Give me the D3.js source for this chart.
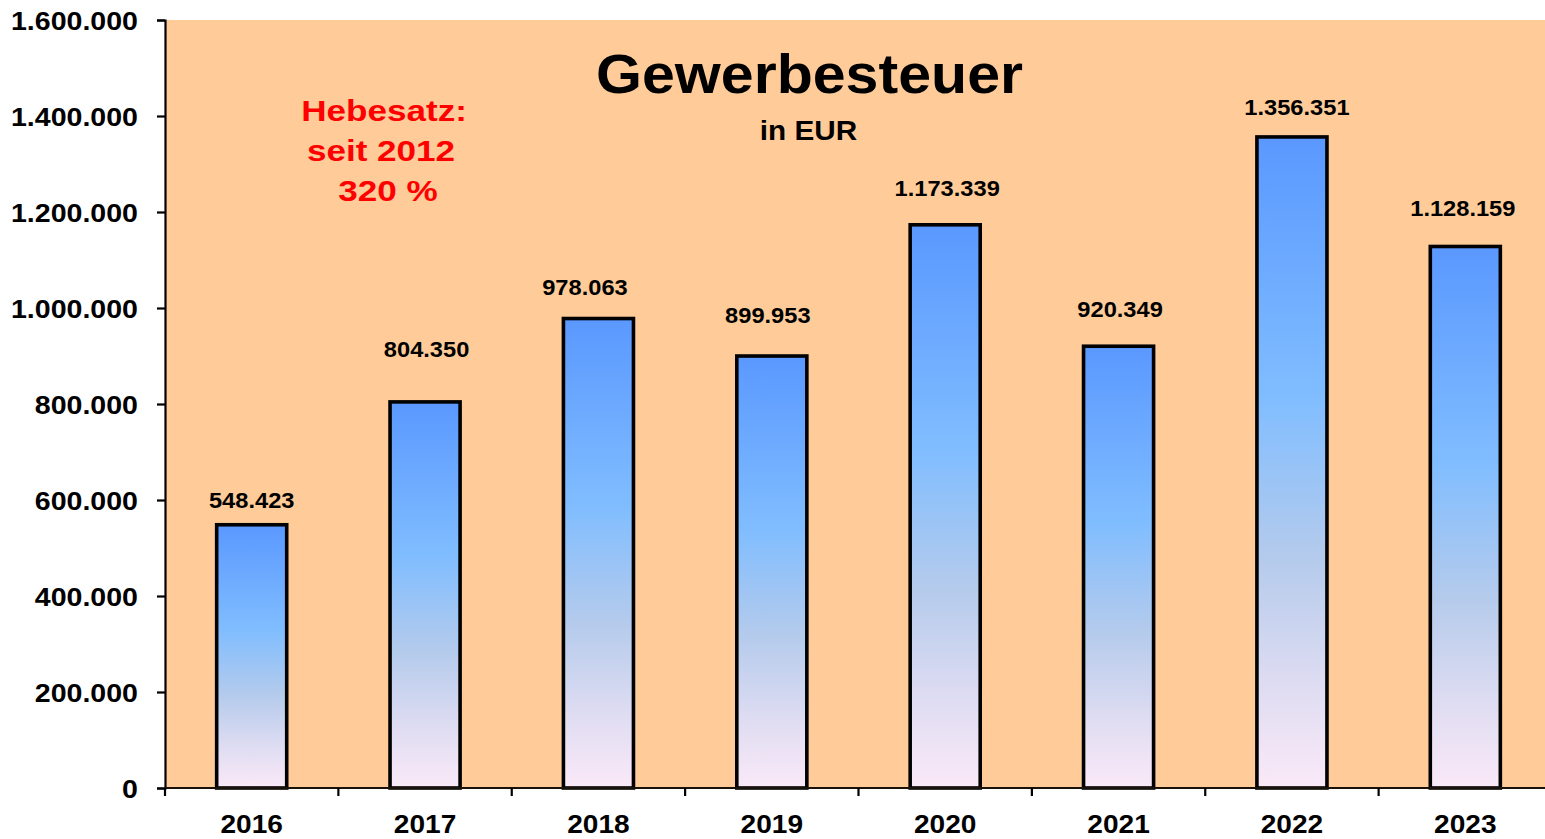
<!DOCTYPE html>
<html>
<head>
<meta charset="utf-8">
<script src="https://cdn.jsdelivr.net/npm/d3@7"></script>
<style>
  html, body { margin: 0; padding: 0; background: #ffffff; overflow: hidden; }
  svg { display: block; font-family: "Liberation Sans", Arial, Helvetica, sans-serif; }
</style>
</head>
<body>
<svg id="chart" width="1545" height="839"></svg>
<script>
// ---- data ----
const categories = ["2016", "2017", "2018", "2019", "2020", "2021", "2022", "2023"];
const values = [548423, 804350, 978063, 899953, 1173339, 920349, 1356351, 1128159];
const valueLabels = ["548.423", "804.350", "978.063", "899.953", "1.173.339", "920.349", "1.356.351", "1.128.159"];
const yTicks = [0, 200000, 400000, 600000, 800000, 1000000, 1200000, 1400000, 1600000];
const yTickLabels = ["0", "200.000", "400.000", "600.000", "800.000", "1.000.000", "1.200.000", "1.400.000", "1.600.000"];
const titleText = "Gewerbesteuer";
const subtitleText = "in EUR";
const noteLines = ["Hebesatz:", "seit 2012", "320 %"];

// ---- layout (label nudges relative to bar top / bar centre) ----
const labelNudge = [[0, -17], [1.5, -45], [-13.5, -23.5], [-4, -33], [2, -29], [1.5, -29], [5, -22], [-2.5, -30.5]];
const noteCenters = [384, 381, 388];

const W = 1545, H = 839;
const plot = { left: 165, top: 20, right: 1552, bottom: 788 };
const svg = d3.select("#chart");

const x = d3.scaleBand().domain(categories).range([plot.left, plot.right])
  .paddingInner(0.596).paddingOuter(0.298);
const y = d3.scaleLinear().domain([0, 1600000]).range([plot.bottom, plot.top]);

// plot background
svg.append("rect").attr("x", plot.left).attr("y", plot.top)
  .attr("width", W - plot.left).attr("height", plot.bottom - plot.top)
  .attr("fill", "#FFCC99");

// gradient
const defs = svg.append("defs");
const grad = defs.append("linearGradient").attr("id", "barGrad")
  .attr("x1", 0).attr("y1", 0).attr("x2", 0).attr("y2", 1);
[[0, "#5A98FF"], [0.4, "#80BDFF"], [0.65, "#B5CBEC"], [0.85, "#E0DDF2"], [1, "#FAE9F8"]]
  .forEach(([o, c]) => grad.append("stop").attr("offset", o).attr("stop-color", c));

// bars
svg.append("g").selectAll("rect").data(values).join("rect")
  .attr("x", (d, i) => x(categories[i]))
  .attr("y", d => y(d))
  .attr("width", x.bandwidth())
  .attr("height", d => y(0) - y(d))
  .attr("fill", "url(#barGrad)")
  .attr("stroke", "#000").attr("stroke-width", 3.6);

// y axis
const yAxis = d3.axisLeft(y).tickValues(yTicks).tickSize(8).tickPadding(0)
  .tickFormat((d, i) => yTickLabels[i]);
const gy = svg.append("g").attr("transform", `translate(${plot.left},0)`).call(yAxis);
gy.select(".domain").attr("stroke", "#000").attr("stroke-width", 2.2);
gy.selectAll(".tick line").attr("stroke", "#000").attr("stroke-width", 2.2);
gy.selectAll(".tick text")
  .attr("x", -27 / 1.12).attr("dy", "0.36em")
  .attr("transform", "scale(1.12,1)")
  .attr("font-size", 25.5).attr("font-weight", "bold").attr("fill", "#000")
  .attr("font-family", "Liberation Sans, Arial, sans-serif");

// x axis line
svg.append("line").attr("x1", plot.left).attr("x2", W).attr("y1", plot.bottom).attr("y2", plot.bottom)
  .attr("stroke", "#1a1208").attr("stroke-width", 2.2);
// x boundary ticks
const bounds = categories.map(c => x(c) + x.bandwidth() / 2 - x.step() / 2).concat([x(categories[categories.length - 1]) + x.bandwidth() / 2 + x.step() / 2]);
svg.append("g").selectAll("line").data(bounds).join("line")
  .attr("x1", d => d).attr("x2", d => d)
  .attr("y1", plot.bottom).attr("y2", plot.bottom + 8)
  .attr("stroke", "#000").attr("stroke-width", 2.2);
// x labels
const gx = svg.append("g").attr("transform", `translate(0,${plot.bottom})`)
  .call(d3.axisBottom(x).tickSize(0).tickPadding(0));
gx.select(".domain").remove();
gx.selectAll(".tick text")
  .attr("y", 45).attr("dy", 0)
  .attr("transform", "scale(1.1,1)")
  .attr("font-size", 25.5).attr("font-weight", "bold").attr("fill", "#000")
  .attr("font-family", "Liberation Sans, Arial, sans-serif");

// value labels
svg.append("g").selectAll("text").data(values).join("text")
  .attr("transform", (d, i) => `translate(${x(categories[i]) + x.bandwidth() / 2 + labelNudge[i][0]},${y(d) + labelNudge[i][1]}) scale(1.1,1)`)
  .attr("text-anchor", "middle")
  .attr("font-size", 21.5).attr("font-weight", "bold").attr("fill", "#000")
  .text((d, i) => valueLabels[i]);

// title
svg.append("text").attr("transform", "translate(809.5,93) scale(1.075,1)")
  .attr("text-anchor", "middle").attr("font-size", 55).attr("font-weight", "bold").attr("fill", "#000")
  .text(titleText);
svg.append("text").attr("transform", "translate(808.5,140) scale(1.1,1)")
  .attr("text-anchor", "middle").attr("font-size", 27).attr("font-weight", "bold").attr("fill", "#000")
  .text(subtitleText);

// note
svg.append("g").selectAll("text").data(noteLines).join("text")
  .attr("transform", (d, i) => `translate(${noteCenters[i]},${121 + i * 40}) scale(1.17,1)`)
  .attr("text-anchor", "middle").attr("font-size", 30).attr("font-weight", "bold").attr("fill", "#FF0000")
  .text(d => d);
</script>
</body>
</html>
